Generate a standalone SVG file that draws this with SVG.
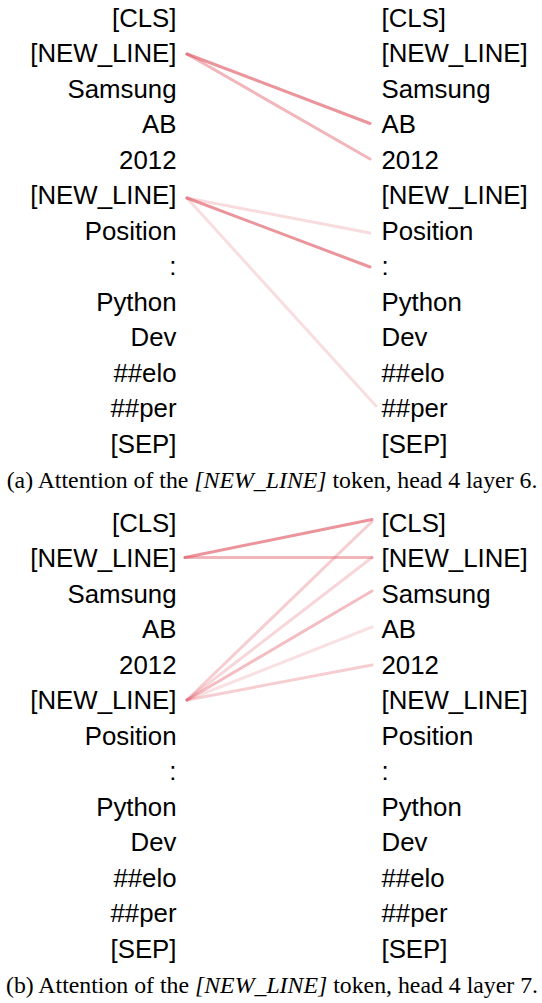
<svg xmlns="http://www.w3.org/2000/svg" width="542" height="1003" viewBox="0 0 542 1003">
<style>
.tok{font-family:"Liberation Sans",Arial,sans-serif;font-size:25.8px;fill:#000}
.l{text-anchor:end}
.cap{font-family:"Liberation Serif","Times New Roman",serif;font-size:23.8px;fill:#000;text-anchor:middle}
.att{stroke:#e05a66;stroke-width:3;stroke-linecap:round;fill:none}
</style>
<rect width="542" height="1003" fill="#fff"/>
<g id="panel-a">
<g id="a-left" class="tok l">
<text x="176.5" y="26.5">[CLS]</text>
<text x="176.5" y="62">[NEW_LINE]</text>
<text x="176.5" y="97.5">Samsung</text>
<text x="176.5" y="133">AB</text>
<text x="176.5" y="168.5">2012</text>
<text x="176.5" y="204">[NEW_LINE]</text>
<text x="176.5" y="239.5">Position</text>
<text x="176.5" y="275">:</text>
<text x="176.5" y="310.5">Python</text>
<text x="176.5" y="346">Dev</text>
<text x="176.5" y="381.5">##elo</text>
<text x="176.5" y="417">##per</text>
<text x="176.5" y="452.5">[SEP]</text>
</g>
<g id="a-right" class="tok">
<text x="381.5" y="26.5">[CLS]</text>
<text x="381.5" y="62">[NEW_LINE]</text>
<text x="381.5" y="97.5">Samsung</text>
<text x="381.5" y="133">AB</text>
<text x="381.5" y="168.5">2012</text>
<text x="381.5" y="204">[NEW_LINE]</text>
<text x="381.5" y="239.5">Position</text>
<text x="381.5" y="275">:</text>
<text x="381.5" y="310.5">Python</text>
<text x="381.5" y="346">Dev</text>
<text x="381.5" y="381.5">##elo</text>
<text x="381.5" y="417">##per</text>
<text x="381.5" y="452.5">[SEP]</text>
</g>
<g id="a-connectors">
<line class="att" x1="187" y1="54" x2="370" y2="123.5" stroke-opacity="0.65"/>
<line class="att" x1="187" y1="54" x2="370" y2="159" stroke-opacity="0.45"/>
<line class="att" x1="187" y1="198" x2="370" y2="233" stroke-opacity="0.22"/>
<line class="att" x1="187" y1="198" x2="370" y2="267" stroke-opacity="0.65"/>
<line class="att" x1="187" y1="198" x2="376" y2="406" stroke-opacity="0.2"/>
</g>
<text id="caption-a" class="cap" x="272" y="488">(a) Attention of the <tspan font-style="italic">[NEW_LINE]</tspan> token, head 4 layer 6.</text>
</g>
<g id="panel-b">
<g id="b-left" class="tok l">
<text x="176.5" y="531.5">[CLS]</text>
<text x="176.5" y="567">[NEW_LINE]</text>
<text x="176.5" y="602.5">Samsung</text>
<text x="176.5" y="638">AB</text>
<text x="176.5" y="673.5">2012</text>
<text x="176.5" y="709">[NEW_LINE]</text>
<text x="176.5" y="744.5">Position</text>
<text x="176.5" y="780">:</text>
<text x="176.5" y="815.5">Python</text>
<text x="176.5" y="851">Dev</text>
<text x="176.5" y="886.5">##elo</text>
<text x="176.5" y="922">##per</text>
<text x="176.5" y="957.5">[SEP]</text>
</g>
<g id="b-right" class="tok">
<text x="381.5" y="531.5">[CLS]</text>
<text x="381.5" y="567">[NEW_LINE]</text>
<text x="381.5" y="602.5">Samsung</text>
<text x="381.5" y="638">AB</text>
<text x="381.5" y="673.5">2012</text>
<text x="381.5" y="709">[NEW_LINE]</text>
<text x="381.5" y="744.5">Position</text>
<text x="381.5" y="780">:</text>
<text x="381.5" y="815.5">Python</text>
<text x="381.5" y="851">Dev</text>
<text x="381.5" y="886.5">##elo</text>
<text x="381.5" y="922">##per</text>
<text x="381.5" y="957.5">[SEP]</text>
</g>
<g id="b-connectors">
<line class="att" x1="185" y1="557.5" x2="372" y2="519.5" stroke-opacity="0.65"/>
<line class="att" x1="185" y1="557.5" x2="372" y2="557.5" stroke-opacity="0.45"/>
<line class="att" x1="187" y1="700" x2="372" y2="521.5" stroke-opacity="0.3"/>
<line class="att" x1="187" y1="700" x2="372" y2="557.5" stroke-opacity="0.25"/>
<line class="att" x1="187" y1="700" x2="372" y2="591" stroke-opacity="0.4" stroke-width="2"/>
<line class="att" x1="187" y1="700" x2="372" y2="627" stroke-opacity="0.18"/>
<line class="att" x1="187" y1="700" x2="372" y2="665" stroke-opacity="0.3"/>
</g>
<text id="caption-b" class="cap" x="272" y="993">(b) Attention of the <tspan font-style="italic">[NEW_LINE]</tspan> token, head 4 layer 7.</text>
</g>
</svg>
